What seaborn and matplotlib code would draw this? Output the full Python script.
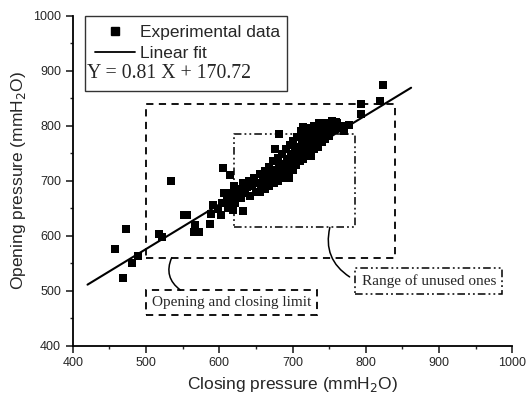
import numpy as np
import pandas as pd
import matplotlib.pyplot as plt
import seaborn as sns
from matplotlib.lines import Line2D
from matplotlib.ticker import MultipleLocator

sns.set_style('ticks')
plt.rcParams['font.family'] = ['Liberation Sans', 'DejaVu Sans']

# closing / opening pressure (mmH2O)
closing = [457, 472, 468, 481, 489, 517, 522, 552, 556, 565, 567, 572, 587, 588,
           603, 619, 633, 534, 605, 615, 606,
           592, 598, 604, 610, 612, 615, 618, 620, 622, 625, 628, 630, 632, 635,
           638, 640, 642, 645, 648, 650,
           652, 655, 657, 660, 662, 664, 666, 668, 670, 672, 674, 676, 677, 679,
           680, 681, 682, 684, 686, 688, 690, 691, 693, 695, 696, 698, 700, 701,
           703, 705, 706, 708, 710, 711, 713, 714, 715, 717, 718, 720, 721, 722,
           724, 725, 727, 728, 730, 731, 733, 734, 736, 737, 739, 740, 742, 744,
           745, 747, 748, 750, 752, 754, 756, 759, 761, 763, 766, 770, 777,
           793, 794, 820, 824,
           655, 662, 668, 675, 680, 685, 690, 695, 700, 705, 710, 715, 720, 725,
           730, 735, 740]
opening = [576, 612, 523, 550, 563, 603, 597, 637, 638, 607, 619, 607, 621, 639,
           638, 647, 644, 700, 723, 710, 677,
           655, 648, 660, 672, 650, 665, 678, 690, 660, 672, 685, 668, 695, 678,
           688, 700, 672, 690, 705, 680,
           695, 712, 688, 700, 718, 692, 706, 725, 698, 712, 735, 757, 720, 705,
           742, 785, 726, 715, 748, 730, 718, 758, 740, 725, 765, 748, 735, 772,
           755, 742, 780, 762, 748, 790, 770, 798, 755, 778, 762, 795, 770, 785,
           760, 778, 792, 768, 800, 782, 770, 790, 805, 778, 795, 785, 800, 790,
           775, 805, 795, 782, 798, 808, 792, 807, 804, 795, 800, 790, 801,
           822, 839, 844, 874,
           680, 685, 690, 695, 700, 705, 712, 705, 720, 728, 735, 740, 748, 745,
           758, 762, 770]

slope, intercept = 0.81, 170.72
fit_x = [420, 862]

limit_box = (500, 840, 560, 840)    # x0, x1, y0, y1
unused_box = (620, 785, 615, 785)

df = pd.DataFrame({'closing': closing, 'opening': opening})

fig, ax = plt.subplots(figsize=(5.28, 4.01), dpi=100)
fig.subplots_adjust(left=0.138, right=0.970, bottom=0.138, top=0.961)

sns.scatterplot(data=df, x='closing', y='opening', marker='s', s=30,
                color='black', edgecolor='black', linewidth=0, ax=ax, zorder=3)
fx = np.array(fit_x)
sns.lineplot(x=fx, y=slope * fx + intercept, color='black', lw=1.5, ax=ax, zorder=4)

x0, x1, y0, y1 = limit_box
ax.plot([x0, x1, x1, x0, x0], [y0, y0, y1, y1, y0], color='black', lw=1.3,
        ls=(0, (4, 3)), zorder=2)
x0, x1, y0, y1 = unused_box
ax.plot([x0, x1, x1, x0, x0], [y0, y0, y1, y1, y0], color='black', lw=1.1,
        ls=(0, (5, 2, 1.2, 2, 1.2, 2)), zorder=2)

ax.text(617, 478, 'Opening and closing limit', family='Liberation Serif', fontsize=11,
        ha='center', va='center',
        bbox=dict(boxstyle='square,pad=0.4', fc='white', ec='black', lw=1.3, ls=(0, (4, 3))))
ax.text(886, 518, 'Range of unused ones', family='Liberation Serif', fontsize=11,
        ha='center', va='center',
        bbox=dict(boxstyle='square,pad=0.4', fc='white', ec='black', lw=1.1,
                  ls=(0, (5, 2, 1.2, 2, 1.2, 2))))
ax.annotate('', xy=(535, 560), xytext=(547, 501),
            arrowprops=dict(arrowstyle='-', color='black', lw=1.1,
                            connectionstyle='arc3,rad=-0.4', shrinkA=0, shrinkB=0))
ax.annotate('', xy=(751, 615), xytext=(778, 525),
            arrowprops=dict(arrowstyle='-', color='black', lw=1.1,
                            connectionstyle='arc3,rad=-0.35', shrinkA=0, shrinkB=0))

ax.set_xlim(400, 1000)
ax.set_ylim(400, 1000)
ax.xaxis.set_major_locator(MultipleLocator(100))
ax.yaxis.set_major_locator(MultipleLocator(100))
ax.xaxis.set_minor_locator(MultipleLocator(50))
ax.yaxis.set_minor_locator(MultipleLocator(50))
ax.tick_params(which='major', direction='out', length=5, width=1.2, labelsize=9)
ax.tick_params(which='minor', direction='out', length=2.5, width=1.0)
sns.despine(ax=ax)
for s in ['left', 'bottom']:
    ax.spines[s].set_linewidth(1.3)
    ax.spines[s].set_color('black')

ax.set_xlabel('Closing pressure (mmH$_2$O)', fontsize=12.5)
ax.set_ylabel('Opening pressure (mmH$_2$O)', fontsize=12.5)

handles = [Line2D([], [], marker='s', color='black', ls='none', markersize=6),
           Line2D([], [], color='black', lw=1.3),
           Line2D([], [], ls='none')]
leg = ax.legend(handles, ['Experimental data', 'Linear fit', ' '], loc='upper left',
                bbox_to_anchor=(0.0286, 0.55, 0.4595, 0.45), mode='expand',
                borderaxespad=0, fontsize=12.5, frameon=True, fancybox=False,
                edgecolor='black', handlelength=2.3, handletextpad=0.3,
                labelspacing=0.3, borderpad=0.55)
leg.get_frame().set_linewidth(1.0)
ax.text(0.0325, 0.826, 'Y = 0.81 X + 170.72', transform=ax.transAxes,
        family='Liberation Serif', fontsize=14.2, va='center', ha='left', zorder=6)

fig.savefig('out.png', dpi=100)
